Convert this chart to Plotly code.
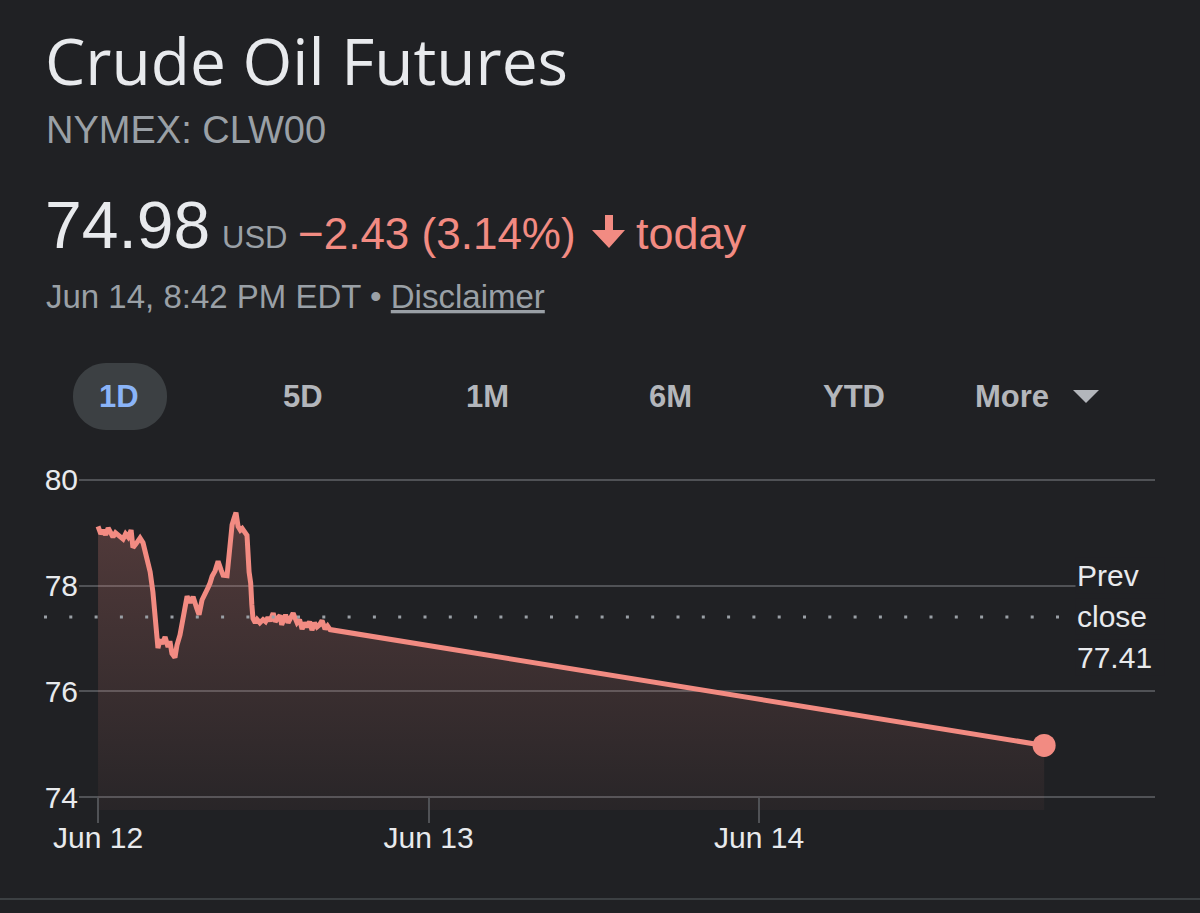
import plotly.graph_objects as go

# ---- data ----
times = [
    "2024-06-12 00:00", "2024-06-12 00:12", "2024-06-12 00:22", "2024-06-12 00:33",
    "2024-06-12 00:44", "2024-06-12 00:55", "2024-06-12 01:05", "2024-06-12 01:16",
    "2024-06-12 01:27", "2024-06-12 01:38", "2024-06-12 01:49", "2024-06-12 02:00",
    "2024-06-12 02:11", "2024-06-12 02:24", "2024-06-12 02:32", "2024-06-12 02:47",
    "2024-06-12 03:03", "2024-06-12 03:16", "2024-06-12 03:34", "2024-06-12 03:47",
    "2024-06-12 03:59", "2024-06-12 04:08", "2024-06-12 04:17", "2024-06-12 04:21",
    "2024-06-12 04:30", "2024-06-12 04:39", "2024-06-12 04:52", "2024-06-12 05:05",
    "2024-06-12 05:13", "2024-06-12 05:22", "2024-06-12 05:35", "2024-06-12 05:44",
    "2024-06-12 05:57", "2024-06-12 06:10", "2024-06-12 06:28", "2024-06-12 06:41",
    "2024-06-12 06:54", "2024-06-12 07:11", "2024-06-12 07:20", "2024-06-12 07:33",
    "2024-06-12 07:46", "2024-06-12 07:59", "2024-06-12 08:08", "2024-06-12 08:17",
    "2024-06-12 08:30", "2024-06-12 08:43", "2024-06-12 08:56", "2024-06-12 09:05",
    "2024-06-12 09:22", "2024-06-12 09:31", "2024-06-12 09:44", "2024-06-12 09:53",
    "2024-06-12 10:01", "2024-06-12 10:10", "2024-06-12 10:20", "2024-06-12 10:28",
    "2024-06-12 10:41", "2024-06-12 10:49", "2024-06-12 10:58", "2024-06-12 11:05",
    "2024-06-12 11:10", "2024-06-12 11:15", "2024-06-12 11:25", "2024-06-12 11:33",
    "2024-06-12 11:45", "2024-06-12 11:59", "2024-06-12 12:10", "2024-06-12 12:20",
    "2024-06-12 12:29", "2024-06-12 12:43", "2024-06-12 12:52", "2024-06-12 13:00",
    "2024-06-12 13:13", "2024-06-12 13:20", "2024-06-12 13:26", "2024-06-12 13:37",
    "2024-06-12 13:48", "2024-06-12 14:00", "2024-06-12 14:10", "2024-06-12 14:27",
    "2024-06-12 14:38", "2024-06-12 14:49", "2024-06-12 15:00", "2024-06-12 15:11",
    "2024-06-12 15:22", "2024-06-12 15:32", "2024-06-12 15:43", "2024-06-12 15:54",
    "2024-06-12 16:05", "2024-06-12 16:16", "2024-06-12 16:29", "2024-06-12 16:40",
    "2024-06-12 16:51",
    "2024-06-14 20:42",
]
prices = [
    79.12, 78.98, 79.05, 78.96,
    79.09, 78.97, 78.92, 79.00,
    78.95, 78.90, 78.88, 78.98,
    78.92, 79.05, 78.72, 78.80,
    78.90, 78.81, 78.45, 78.26,
    77.88, 77.44, 77.01, 76.82,
    76.98, 76.90, 77.03, 76.84,
    76.95, 76.72, 76.64, 76.88,
    77.07, 77.38, 77.80, 77.68,
    77.79, 77.56, 77.45, 77.73,
    77.83, 77.96, 78.05, 78.18,
    78.28, 78.46, 78.30, 78.20,
    78.19, 78.58, 79.15, 79.28,
    79.38, 79.12, 79.05, 79.08,
    78.98, 78.95, 78.26, 78.05,
    77.64, 77.38, 77.30, 77.36,
    77.30, 77.36, 77.32, 77.40,
    77.33, 77.48, 77.32, 77.36,
    77.44, 77.26, 77.32, 77.45,
    77.30, 77.42, 77.48, 77.30,
    77.36, 77.18, 77.30, 77.22,
    77.32, 77.16, 77.30, 77.22,
    77.26, 77.34, 77.18, 77.24,
    77.17,
    74.98,
]
prev_close = 77.41
y_ticks = [74, 76, 78, 80]
x_ticks = ["2024-06-12", "2024-06-13", "2024-06-14"]
x_labels = ["Jun 12", "Jun 13", "Jun 14"]
ranges = ["1D", "5D", "1M", "6M", "YTD", "More"]

BG = "#202124"
RED = "#f28b82"
GRID = "#505256"
TXT = "#e8eaed"
GREY = "#9aa0a6"
BTN = "#b3b6bb"
SANS = "Liberation Sans, Arial, sans-serif"
W, H = 1200, 913
y_lo = 73.76


def px(x):
    return x / W


def py(y):
    return 1 - y / H


def poly(points):
    return "M" + " L".join(f"{px(a)},{py(b)}" for a, b in points) + " Z"


fig = go.Figure()
fig.add_trace(go.Scatter(
    x=times, y=prices, mode="lines",
    line=dict(color=RED, width=5),
    fill="tozeroy",
    fillgradient=dict(type="vertical", start=y_lo, stop=max(prices),
                      colorscale=[[0, "rgba(242,139,130,0.04)"], [1, "rgba(242,139,130,0.24)"]]),
    hoverinfo="skip",
))
fig.add_trace(go.Scatter(
    x=times[-1:], y=prices[-1:], mode="markers",
    marker=dict(color=RED, size=23), hoverinfo="skip",
))

# previous close dotted line
fig.add_shape(type="line", xref="paper", yref="y", x0=px(44), x1=px(1075),
              y0=prev_close, y1=prev_close,
              line=dict(color=GREY, width=3, dash="3px,22.3px"))

# header texts
ann = []
ann.append(dict(text="Crude Oil Futures", x=px(43), y=py(60),
                font=dict(size=64, color=TXT, family="Open Sans, Roboto, sans-serif")))
ann.append(dict(text="NYMEX: CLW00", x=px(44), y=py(130), font=dict(size=38, color=GREY)))
ann.append(dict(text="74.98", x=px(43), y=py(225), font=dict(size=66, color=TXT)))
ann.append(dict(text="USD", x=px(220), y=py(237), font=dict(size=31, color=GREY)))
ann.append(dict(text="−2.43 (3.14%)", x=px(296), y=py(233), font=dict(size=44, color=RED)))
ann.append(dict(text="today", x=px(634), y=py(233), font=dict(size=45, color=RED)))
ann.append(dict(text="Jun 14, 8:42 PM EDT • <span style='text-decoration:underline'>Disclaimer</span>",
                x=px(44), y=py(296), font=dict(size=33, color=GREY)))
for a in ann:
    a.update(xref="paper", yref="paper", xanchor="left", yanchor="middle", showarrow=False)

# range buttons
btn_x = [119, 303, 487, 670, 854, 1012]
for lab, bx in zip(ranges, btn_x):
    ann.append(dict(text=f"<b>{lab}</b>", x=px(bx), y=py(396), xref="paper", yref="paper",
                    xanchor="center", yanchor="middle", showarrow=False,
                    font=dict(size=31, color="#8ab4f8" if lab == "1D" else BTN)))

# prev close label (boxes hide the 78 gridline behind the text)
for txt, shift in [("Prev", 41), ("close", 0), ("77.41", -41)]:
    ann.append(dict(text=txt, x=px(1075), y=prev_close, xref="paper", yref="y",
                    xanchor="left", yanchor="middle", yshift=shift, showarrow=False,
                    width=86, align="left", bgcolor=BG, font=dict(size=30, color=TXT)))


def pill(x0, y0, x1, y1, r):
    k = 0.5523 * r
    return (f"M{px(x0 + r)},{py(y0)} L{px(x1 - r)},{py(y0)} "
            f"C{px(x1 - r + k)},{py(y0)} {px(x1)},{py(y0 + r - k)} {px(x1)},{py(y0 + r)} "
            f"L{px(x1)},{py(y1 - r)} "
            f"C{px(x1)},{py(y1 - r + k)} {px(x1 - r + k)},{py(y1)} {px(x1 - r)},{py(y1)} "
            f"L{px(x0 + r)},{py(y1)} "
            f"C{px(x0 + r - k)},{py(y1)} {px(x0)},{py(y1 - r + k)} {px(x0)},{py(y1 - r)} "
            f"L{px(x0)},{py(y0 + r)} "
            f"C{px(x0)},{py(y0 + r - k)} {px(x0 + r - k)},{py(y0)} {px(x0 + r)},{py(y0)} Z")


fig.add_shape(type="path", xref="paper", yref="paper", path=pill(73, 363, 167, 430, 33),
              fillcolor="#3c4043", line=dict(width=0), layer="below")
# down arrow icon next to the change
fig.add_shape(type="path", xref="paper", yref="paper",
              path=poly([(605, 215), (613, 215), (613, 230), (625, 230), (609, 248), (592, 230), (605, 230)]),
              fillcolor=RED, line=dict(width=0))
# dropdown triangle
fig.add_shape(type="path", xref="paper", yref="paper",
              path=poly([(1073, 390), (1099, 390), (1086, 403)]),
              fillcolor=BTN, line=dict(width=0))
fig.add_shape(type="line", xref="paper", yref="paper", x0=0, x1=1, y0=py(899), y1=py(899),
              line=dict(color="#3c4043", width=2))

fig.update_layout(
    width=W, height=H, margin=dict(l=0, r=0, t=0, b=0, autoexpand=False),
    paper_bgcolor=BG, plot_bgcolor=BG, showlegend=False,
    font=dict(family=SANS),
    annotations=ann,
    xaxis=dict(domain=[px(79), px(1155)], type="date", automargin=False,
               range=["2024-06-11 22:37", "2024-06-15 04:45"],
               tickvals=x_ticks, ticktext=x_labels,
               ticks="outside", ticklen=25, tickwidth=2, tickcolor=GRID,
               ticklabelstandoff=-11,
               showgrid=False, zeroline=False, showline=False,
               anchor="free", position=py(797),
               tickfont=dict(size=30, color=TXT)),
    yaxis=dict(domain=[py(810), py(464)], range=[y_lo, 80.3], automargin=False,
               tickvals=y_ticks, showgrid=True, gridcolor=GRID, gridwidth=2,
               zeroline=False, showline=False, ticks="",
               tickfont=dict(size=30, color=TXT)),
)

fig.write_html("out.html", config={"displayModeBar": False},
               post_script="document.body.style.margin='0';document.body.style.background='#202124';")
